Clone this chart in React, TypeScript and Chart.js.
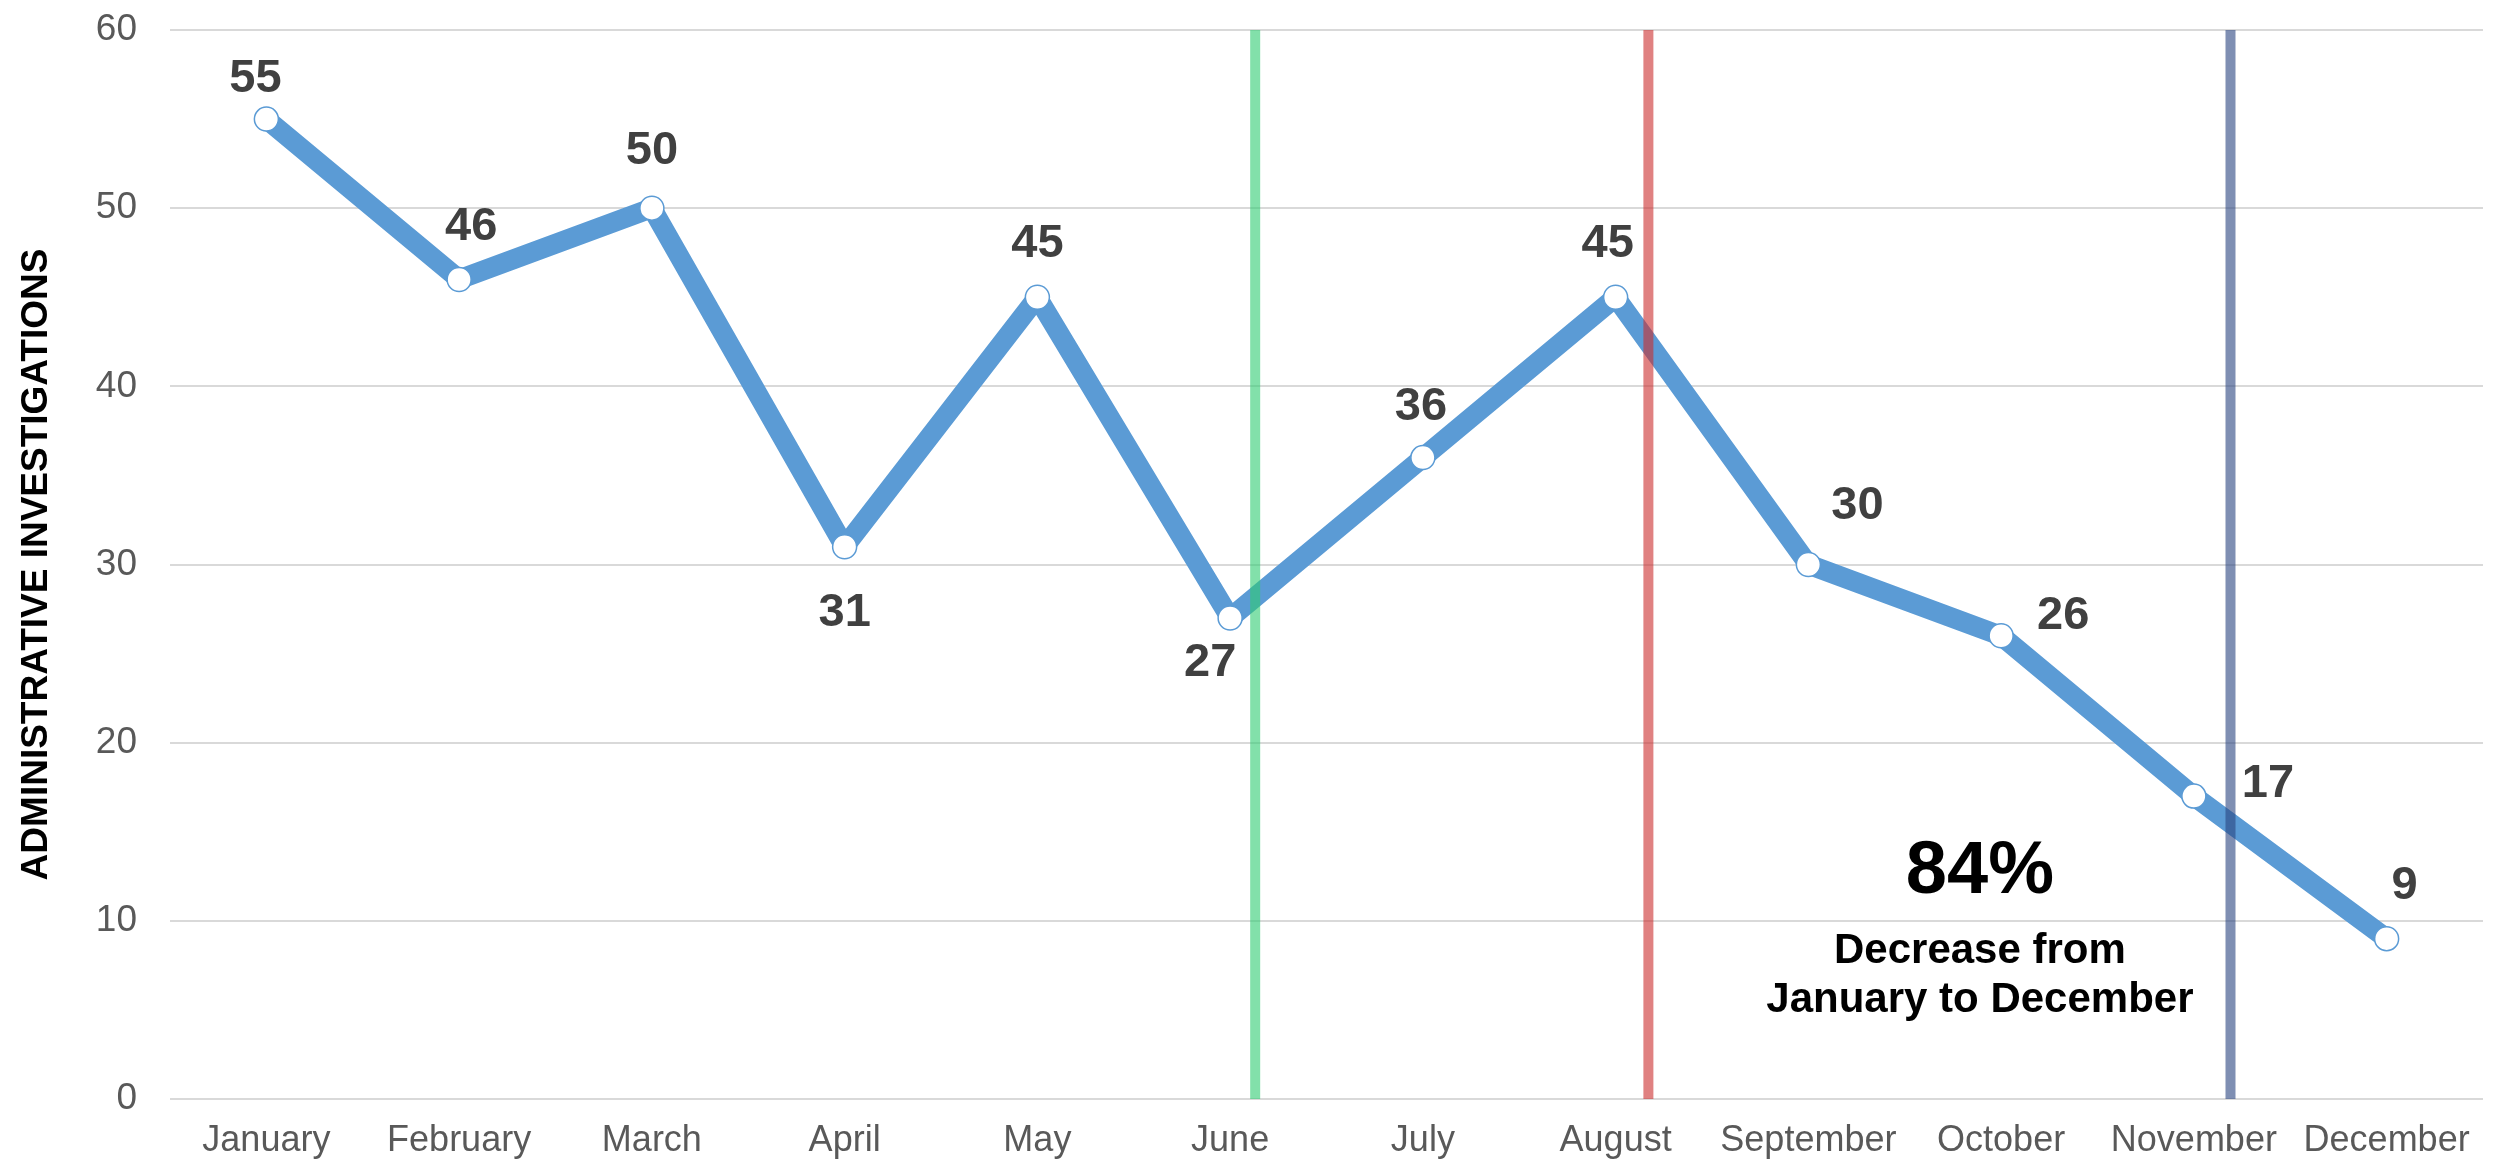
import React, { useEffect, useRef } from "react";
import { Chart, registerables } from "chart.js";

Chart.register(...registerables);

const months = [
  "January", "February", "March", "April", "May", "June",
  "July", "August", "September", "October", "November", "December",
];
const investigations = [55, 46, 50, 31, 45, 27, 36, 45, 30, 26, 17, 9];
const yTicks = [0, 10, 20, 30, 40, 50, 60];
const axisTitle = "ADMINISTRATIVE INVESTIGATIONS";

// vertical marker lines (category index positions)
const markerPositions = [5.13, 7.17, 10.19];
const markerColors = [
  "rgba(46, 204, 113, 0.6)",
  "rgba(204, 45, 45, 0.6)",
  "rgba(42, 68, 128, 0.6)",
];

// annotation text
const annotationBig = "84%";
const annotationLines = ["Decrease from", "January to December"];

// label offsets (px) relative to each point
const labelOffsets: [number, number][] = [
  [-11, -40], [12, -52], [0, -57], [0, 66], [0, -53], [-20, 45],
  [-2, -51], [-8, -53], [49, -58], [62, -20], [74, -12], [18, -53],
];

const FONT = "'Liberation Sans', Arial, sans-serif";

export default function App() {
  const canvasRef = useRef<HTMLCanvasElement | null>(null);

  useEffect(() => {
    document.body.style.margin = "0";
    const canvas = canvasRef.current;
    if (!canvas) return;

    const overlay = {
      id: "overlay",
      afterDatasetsDraw(chart: any) {
        const { ctx, chartArea, scales } = chart;
        const xs = scales.x;
        const ys = scales.y;
        ctx.save();
        // marker lines
        markerPositions.forEach((p, i) => {
          const x = xs.getPixelForValue(p);
          ctx.strokeStyle = markerColors[i];
          ctx.lineWidth = 10;
          ctx.beginPath();
          ctx.moveTo(x, chartArea.top);
          ctx.lineTo(x, chartArea.bottom);
          ctx.stroke();
        });
        // data labels
        const meta = chart.getDatasetMeta(0);
        ctx.fillStyle = "#404040";
        ctx.font = `bold 47px ${FONT}`;
        ctx.textAlign = "center";
        ctx.textBaseline = "middle";
        meta.data.forEach((pt: any, i: number) => {
          const [dx, dy] = labelOffsets[i];
          ctx.fillText(String(investigations[i]), pt.x + dx, pt.y + dy);
        });
        // annotation
        const ax = xs.getPixelForValue(8.89);
        ctx.fillStyle = "#000000";
        ctx.font = `bold 74px ${FONT}`;
        ctx.fillText(annotationBig, ax, ys.getPixelForValue(12.73));
        ctx.font = `bold 42px ${FONT}`;
        ctx.fillText(annotationLines[0], ax, ys.getPixelForValue(8.3));
        ctx.fillText(annotationLines[1], ax, ys.getPixelForValue(5.55));
        ctx.restore();
      },
    };

    const chart = new Chart(canvas, {
      type: "line",
      data: {
        labels: months,
        datasets: [
          {
            data: investigations,
            borderColor: "#5b9bd5",
            borderWidth: 20,
            borderJoinStyle: "round",
            pointRadius: 12,
            pointBorderWidth: 1.5,
            pointBackgroundColor: "#ffffff",
            pointBorderColor: "#5b9bd5",
            tension: 0,
          },
        ],
      },
      options: {
        animation: false,
        responsive: false,
        maintainAspectRatio: false,
        layout: { padding: { top: 0, right: 26, left: 0, bottom: 0 } },
        plugins: {
          legend: { display: false },
          tooltip: { enabled: false },
        },
        scales: {
          x: {
            type: "category",
            offset: true,
            grid: { display: false, drawTicks: false },
            border: { display: false },
            ticks: {
              color: "#595959",
              font: { family: FONT, size: 36 },
              padding: 20,
              maxRotation: 0,
              autoSkip: false,
            },
            afterFit(scale: any) {
              scale.height = 69;
            },
          },
          y: {
            min: 0,
            max: 60,
            afterBuildTicks(scale: any) {
              scale.ticks = yTicks.map((v) => ({ value: v }));
            },
            grid: { color: "#d9d9d9", lineWidth: 2, drawTicks: false },
            border: { display: false },
            ticks: {
              color: "#595959",
              font: { family: FONT, size: 37 },
              padding: 33,
            },
            title: {
              display: true,
              text: axisTitle,
              color: "#000000",
              font: { family: FONT, size: 37, weight: "bold" },
              padding: { top: 15, bottom: 0 },
            },
            afterFit(scale: any) {
              scale.width = 170;
              scale.paddingTop = 30;
              scale.paddingBottom = 0;
            },
          },
        },
      },
      plugins: [overlay],
    });

    return () => chart.destroy();
  }, []);

  return (
    <div style={{ width: 2509, height: 1168, position: "relative" }}>
      <canvas ref={canvasRef} width={2509} height={1168} style={{ display: "block" }} />
    </div>
  );
}
